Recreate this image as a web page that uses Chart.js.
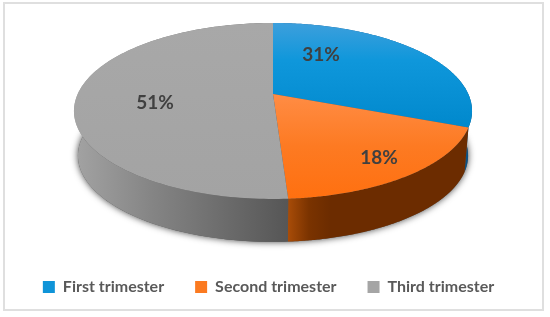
<!DOCTYPE html>
<html>
<head>
<meta charset="utf-8">
<style>
html, body { margin: 0; padding: 0; background: #fff; }
#wrap { width: 550px; height: 317px; position: relative; }
#pie3d { filter: blur(0.4px); }
</style>
<script src="https://cdn.jsdelivr.net/npm/chart.js@4"></script>
</head>
<body>
<div id="wrap"><canvas id="pie3d" width="550" height="317"></canvas></div>
<script>
const categories = ['First trimester', 'Second trimester', 'Third trimester'];
const shares = [31, 18, 51];
const swatches = ['#0f94d8', '#fb7a20', '#a5a5a5'];

// perspective of the tilted disc, measured on the reference
const view = { x: 273, y: 94, a: 195.3, b: 84.7, k: 0.193, depth: 45, shrink: 0.98 };
const labelAt = [[321, 55], [379, 158], [155, 103]];

function project(angle, r, drop, scale) {
    const u = r * Math.cos(angle), v = r * Math.sin(angle);
    const w = 1 - view.k * v;
    return [view.x + scale * view.a * u / w, view.y + drop + scale * view.b * v / w];
}

function linear(ctx, x0, y0, x1, y1, stops) {
    const g = ctx.createLinearGradient(x0, y0, x1, y1);
    stops.forEach(s => g.addColorStop(s[0], s[1]));
    return g;
}

function rim(ctx, from, to, drop, scale, first) {
    const steps = 160;
    for (let i = 0; i <= steps; i++) {
        const p = project(from + (to - from) * i / steps, 1, drop, scale);
        if (i === 0 && first) ctx.moveTo(p[0], p[1]); else ctx.lineTo(p[0], p[1]);
    }
}

const disc = {
    id: 'disc',
    beforeDraw(chart) {
        const ctx = chart.ctx;
        ctx.save();
        ctx.strokeStyle = '#dfdfdf';
        ctx.lineWidth = 2;
        ctx.strokeRect(4, 3, 539, 307);
        ctx.restore();
    },
    afterLayout(chart) {
        // legend row sits higher and a bit left of where the layout puts it
        chart.legend.top = 248;
        chart.legend.left -= 13;
        chart.legend.adjustHitBoxes();
    },
    beforeDatasetsDraw(chart) {
        const ctx = chart.ctx;
        const arcs = chart.getDatasetMeta(0).data;
        const walls = [
            linear(ctx, 440, 0, 472, 0, [[0, '#0d5c94'], [1, '#0a4f80']]),
            linear(ctx, 288, 0, 330, 0, [[0, '#a84c08'], [0.5, '#7a3300'], [1, '#6c2c00']]),
            linear(ctx, 77, 0, 288, 0, [[0, '#a2a2a2'], [0.35, '#858585'], [1, '#565656']])
        ];
        const faces = [
            linear(ctx, 0, 23, 0, 130, [[0, '#3d9fdc'], [0.35, '#0f97db'], [1, '#0088cc']]),
            linear(ctx, 0, 95, 0, 198, [[0, '#ff8c44'], [0.5, '#fd7a22'], [1, '#ff7010']]),
            linear(ctx, 0, 23, 0, 198, [[0, '#a8a8a8'], [1, '#a3a3a3']])
        ];

        // soft shadow round the underside
        ctx.save();
        ctx.shadowColor = 'rgba(0,0,0,0.75)';
        ctx.shadowBlur = 7;
        ctx.fillStyle = '#555';
        ctx.beginPath();
        rim(ctx, 0, Math.PI * 2, view.depth, view.shrink, true);
        ctx.closePath();
        ctx.fill();
        ctx.restore();

        // side wall, one piece for each slice
        arcs.forEach((arc, i) => {
            ctx.beginPath();
            rim(ctx, arc.startAngle, arc.endAngle, 0, 1, true);
            rim(ctx, arc.endAngle, arc.startAngle, view.depth, view.shrink, false);
            ctx.closePath();
            ctx.fillStyle = walls[i];
            ctx.fill();
        });

        // top of the disc
        arcs.forEach((arc, i) => {
            ctx.beginPath();
            ctx.moveTo(view.x, view.y);
            rim(ctx, arc.startAngle, arc.endAngle, 0, 1, false);
            ctx.closePath();
            ctx.fillStyle = faces[i];
            ctx.fill();
        });

        ctx.save();
        ctx.font = 'bold 19px Lato';
        ctx.fillStyle = '#404040';
        ctx.textAlign = 'center';
        ctx.textBaseline = 'middle';
        shares.forEach((v, i) => ctx.fillText(v + '%', labelAt[i][0], labelAt[i][1]));
        ctx.restore();
        return false;
    }
};

new Chart(document.getElementById('pie3d'), {
    type: 'pie',
    data: {
        labels: categories,
        datasets: [{
            data: shares,
            backgroundColor: swatches,
            borderWidth: 0
        }]
    },
    options: {
        responsive: false,
        animation: false,
        plugins: {
            tooltip: { enabled: false },
            legend: {
                position: 'bottom',
                labels: {
                    boxWidth: 12,
                    boxHeight: 12,
                    padding: 31,
                    color: '#595959',
                    font: { family: 'Lato', size: 16, weight: 'bold' }
                }
            }
        }
    },
    plugins: [disc]
});
</script>
</body>
</html>
